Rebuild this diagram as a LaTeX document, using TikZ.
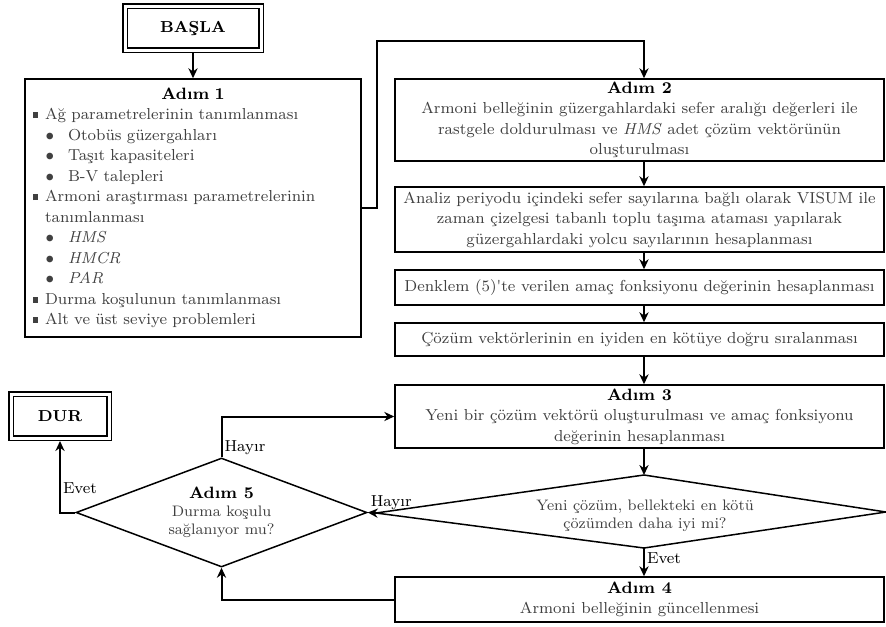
\documentclass[tikz,border=0pt]{standalone}
\usepackage{fontspec}
\usepackage{tikz}
\usetikzlibrary{shapes.geometric,arrows.meta}
\definecolor{metin}{gray}{0.25}
\newcommand{\govde}{\fontsize{7.95}{10.25}\selectfont}
\newcommand{\kucuk}{\fontsize{7.6}{9}\selectfont}
\newcommand{\baslik}[1]{{\color{black}\bfseries\fontsize{8.2}{10.25}\selectfont #1}}
\newcommand{\madde}[1]{\hspace*{3.8pt}\rule[0.9pt]{2.8pt}{2.8pt}\hspace{3.4pt}#1}
\newcommand{\altmadde}[1]{\hspace*{10pt}\makebox[5pt]{$\bullet$}\hspace{6.5pt}#1}

\begin{document}
\begin{tikzpicture}[x=0.5pt,y=-0.5pt,
  >={Stealth[length=5pt,width=4.6pt]},
  kutu/.style={draw,rectangle,line width=0.75pt,inner sep=0pt,minimum width=244.5pt,
    align=center,text=metin,font=\govde},
  uckutu/.style={draw,double,double distance=1.5pt,line width=0.75pt,outer sep=1.5pt,
    inner sep=0pt,font=\govde\bfseries},
  karar/.style={draw,diamond,aspect=2.67,line width=0.75pt,inner sep=0pt,
    align=center,text=metin,font=\kucuk},
  okcizgi/.style={->,line width=1pt},
  etiket/.style={font=\govde,text=black,inner sep=1pt}]

  \useasboundingbox (0,0) rectangle (886,626);

  \node[uckutu, minimum width=68pt, minimum height=22pt] (basla) at (193,28.5) {BAŞLA};
  \node[kutu, text width=168pt, minimum width=168pt, minimum height=129pt, align=left] (adim1) at (193,208)
    {\makebox[168pt]{\baslik{Adım 1}}\\
     \madde{Ağ parametrelerinin tanımlanması}\\
     \altmadde{Otobüs güzergahları}\\
     \altmadde{Taşıt kapasiteleri}\\
     \altmadde{B-V talepleri}\\
     \madde{Armoni araştırması parametrelerinin}\\
     \hspace*{10pt}tanımlanması\\
     \altmadde{\textit{HMS}}\\
     \altmadde{\textit{HMCR}}\\
     \altmadde{\textit{PAR}}\\
     \madde{Durma koşulunun tanımlanması}\\
     \madde{Alt ve üst seviye problemleri}};

  \node[kutu, minimum height=41pt] (adim2) at (639.5,120)
    {\baslik{Adım 2}\\
     Armoni belleğinin güzergahlardaki sefer aralığı değerleri ile\\
     rastgele doldurulması ve \textit{HMS} adet çözüm vektörünün\\
     oluşturulması};
  \node[kutu, minimum height=32.5pt] (analiz) at (639.5,219.5)
    {Analiz periyodu içindeki sefer sayılarına bağlı olarak VISUM ile\\
     zaman çizelgesi tabanlı toplu taşıma ataması yapılarak\\
     güzergahlardaki yolcu sayılarının hesaplanması};
  \node[kutu, minimum height=17.5pt] (denklem) at (639.5,287.5)
    {Denklem (5)\textquotesingle te verilen amaç fonksiyonu değerinin hesaplanması};
  \node[kutu, minimum height=16.5pt] (siralama) at (639.5,339.5)
    {Çözüm vektörlerinin en iyiden en kötüye doğru sıralanması};
  \node[kutu, minimum height=31.5pt] (adim3) at (639.5,416.5)
    {\baslik{Adım 3}\\
     Yeni bir çözüm vektörü oluşturulması ve amaç fonksiyonu\\
     değerinin hesaplanması};
  \node[kutu, minimum height=22.5pt] (adim4) at (639.5,599.5)
    {\baslik{Adım 4}\\
     Armoni belleğinin güncellenmesi};

  \node[karar, minimum width=145.5pt, minimum height=54.5pt] (adim5) at (221.5,512.5)
    {\baslik{Adım 5}\\Durma koşulu\\sağlanıyor mu?};
  \node[uckutu, minimum width=49pt, minimum height=22pt] (dur) at (60,416) {DUR};

  \coordinate (sutun) at (644,0);
  \coordinate (k1) at (377,41);
  \coordinate (k-sol) at (376,513);
  \coordinate (k-ust) at (644,475);
  \coordinate (k-sag) at (886,512);
  \coordinate (k-alt) at (644,548);
  \draw[line width=0.75pt] (k-sol) -- (k-ust) -- (k-sag) -- (k-alt) -- cycle;
  \node[align=center, text=metin, font=\kucuk] (yenicozum) at (645,516)
    {Yeni çözüm, bellekteki en kötü\\çözümden daha iyi mi?};

  \draw[okcizgi] (basla) -- (adim1);
  \draw[okcizgi] (adim1.east) -| (k1) -| (adim2.north -| sutun);
  \draw[okcizgi] (adim2.south -| sutun) -- (analiz.north -| sutun);
  \draw[okcizgi] (analiz.south -| sutun) -- (denklem.north -| sutun);
  \draw[okcizgi] (denklem.south -| sutun) -- (siralama.north -| sutun);
  \draw[okcizgi] (siralama.south -| sutun) -- (adim3.north -| sutun);
  \draw[okcizgi] (adim3.south -| sutun) -- (k-ust);
  \draw[okcizgi] (k-alt) -- node[etiket, pos=0.35, anchor=west] {Evet} (adim4.north -| sutun);
  \draw[okcizgi] (k-sol) -- node[etiket, pos=1, anchor=south west] {Hayır} (adim5.east);
  \draw[okcizgi] (adim4.west) -| (adim5.south);
  \draw[okcizgi] (adim5.north) |- node[etiket, pos=0, anchor=south west] {Hayır} (adim3.west);
  \draw[okcizgi] (adim5.west) -| node[etiket, pos=0.67, anchor=west] {Evet} (dur.south);

\end{tikzpicture}
\end{document}
